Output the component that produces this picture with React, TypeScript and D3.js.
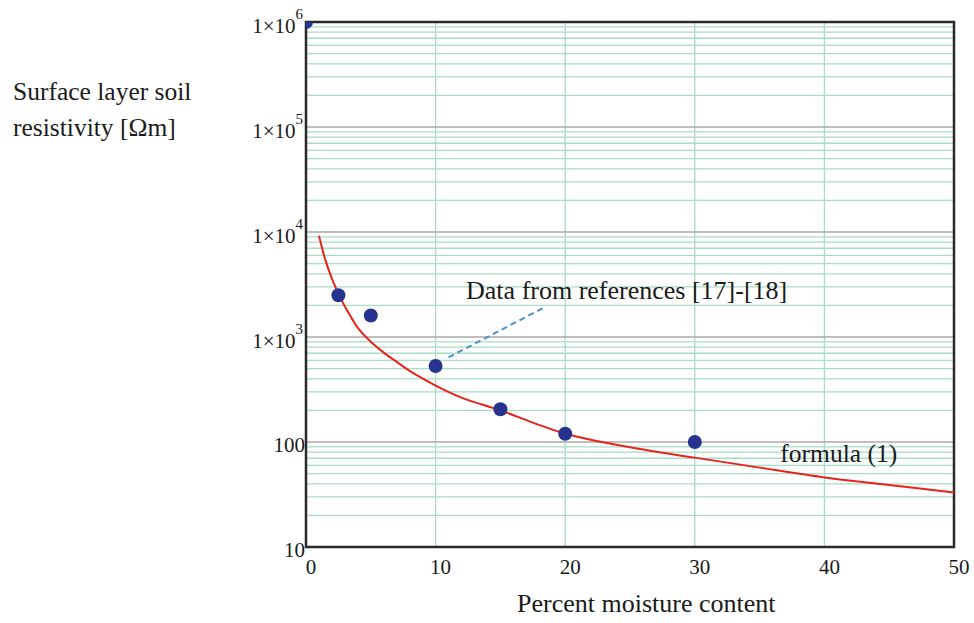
import { useEffect, useRef } from "react";
import * as d3 from "d3";

// curve "formula (1)"
const curveX = [1, 1.5, 2, 2.5, 3, 3.5, 4, 5, 6, 7, 8, 10, 12, 15, 17.5, 20, 25, 30, 35, 40, 45, 50];
const curveY = [9200, 5400, 3600, 2600, 1950, 1530, 1220, 900, 710, 580, 475, 345, 265, 200, 153, 120, 89, 71, 57, 46, 39, 33];

// measured points, data from references [17]-[18]
const dotX = [0, 2.5, 5, 10, 15, 20, 30];
const dotY = [1000000, 2500, 1600, 530, 205, 120, 100];

const xTicks = [0, 10, 20, 30, 40, 50];
const yTicks = [10, 100, 1000, 10000, 100000, 1000000];
const yTickExp = [null, null, 3, 4, 5, 6];

export default function App() {
    const svgRef = useRef(null);

    useEffect(() => {
        const svg = d3.select(svgRef.current);
        svg.selectAll("*").remove();

        const left = 306, right = 954, top = 22, bottom = 547;
        const font = "'Liberation Serif', 'Times New Roman', serif";

        const x = d3.scaleLinear().domain([0, 50]).range([left, right]);
        const y = d3.scaleLog().domain([10, 1000000]).range([bottom, top]);

        // clip for the dots
        svg.append("clipPath").attr("id", "plot-clip")
            .append("rect")
            .attr("x", left).attr("y", top)
            .attr("width", right - left).attr("height", bottom - top);

        // minor horizontal grid
        const minor = [];
        for (let d = 10; d < 1000000; d *= 10) {
            for (let k = 2; k <= 9; k++) minor.push(d * k);
        }
        svg.append("g").selectAll("line")
            .data(minor)
            .join("line")
            .attr("x1", left).attr("x2", right)
            .attr("y1", d => y(d)).attr("y2", d => y(d))
            .attr("stroke", "#a9dcc6")
            .attr("stroke-width", 1.3);

        // vertical grid
        svg.append("g").selectAll("line")
            .data(xTicks.slice(1, -1))
            .join("line")
            .attr("x1", d => x(d)).attr("x2", d => x(d))
            .attr("y1", top).attr("y2", bottom)
            .attr("stroke", "#a9dcc6")
            .attr("stroke-width", 1.3);

        // decade lines
        svg.append("g").selectAll("line")
            .data(yTicks.slice(1, -1))
            .join("line")
            .attr("x1", left).attr("x2", right)
            .attr("y1", d => y(d)).attr("y2", d => y(d))
            .attr("stroke", "#a8aaa8")
            .attr("stroke-width", 1.3);

        // frame
        svg.append("rect")
            .attr("x", left).attr("y", top)
            .attr("width", right - left).attr("height", bottom - top)
            .attr("fill", "none")
            .attr("stroke", "#2a2a2a")
            .attr("stroke-width", 2.5);

        // formula curve
        const lineGen = d3.line()
            .x(d => x(d[0]))
            .y(d => y(d[1]))
            .curve(d3.curveCatmullRom);

        svg.append("path")
            .datum(curveX.map((v, i) => [v, curveY[i]]))
            .attr("fill", "none")
            .attr("stroke", "#e8231c")
            .attr("stroke-width", 2)
            .attr("d", lineGen);

        // leader line for the data annotation
        svg.append("line")
            .attr("x1", x(11)).attr("y1", y(640))
            .attr("x2", x(18.3)).attr("y2", y(1890))
            .attr("stroke", "#4a8fd0")
            .attr("stroke-width", 2)
            .attr("stroke-dasharray", "6,4");

        // data dots
        svg.append("g")
            .attr("clip-path", "url(#plot-clip)")
            .selectAll("circle")
            .data(dotX.map((v, i) => [v, dotY[i]]))
            .join("circle")
            .attr("cx", d => x(d[0]))
            .attr("cy", d => y(d[1]))
            .attr("r", 7)
            .attr("fill", "#27348f");

        // y tick labels
        const yl = svg.append("g")
            .attr("font-family", font)
            .attr("fill", "#1a1a1a");
        yTicks.forEach((t, i) => {
            const e = yTickExp[i];
            if (e == null) {
                yl.append("text")
                    .attr("x", 305)
                    .attr("y", y(t) + 10)
                    .attr("text-anchor", "end")
                    .attr("font-size", 21)
                    .text(String(t));
            } else {
                const txt = yl.append("text")
                    .attr("x", 303)
                    .attr("y", y(t) + 11)
                    .attr("text-anchor", "end")
                    .attr("font-size", 21);
                txt.append("tspan").text("1×10");
                txt.append("tspan")
                    .attr("font-size", 15)
                    .attr("dy", -14)
                    .text(String(e));
            }
        });

        // x tick labels
        svg.append("g")
            .attr("font-family", font)
            .attr("font-size", 21)
            .attr("fill", "#1a1a1a")
            .selectAll("text")
            .data(xTicks)
            .join("text")
            .attr("x", d => x(d) + 5)
            .attr("y", 574)
            .attr("text-anchor", "middle")
            .text(d => String(d));

        // annotations
        svg.append("text")
            .attr("x", x(12.35)).attr("y", y(2300))
            .attr("font-family", font).attr("font-size", 26)
            .attr("fill", "#1a1a1a")
            .text("Data from references [17]-[18]");

        svg.append("text")
            .attr("x", x(36.6)).attr("y", y(64))
            .attr("font-family", font).attr("font-size", 25.5)
            .attr("fill", "#1a1a1a")
            .text("formula (1)");

        // axis titles
        const yt = svg.append("text")
            .attr("font-family", font).attr("font-size", 25.5)
            .attr("fill", "#1a1a1a");
        yt.append("tspan").attr("x", 13).attr("y", 100).text("Surface layer soil");
        yt.append("tspan").attr("x", 13).attr("y", 136).text("resistivity [Ωm]");

        svg.append("text")
            .attr("x", 517).attr("y", 612)
            .attr("font-family", font).attr("font-size", 26)
            .attr("fill", "#1a1a1a")
            .text("Percent moisture content");
    }, []);

    return (
        <svg
            ref={svgRef}
            width={974}
            height={623}
            style={{ position: "absolute", left: 0, top: 0, background: "#fff" }}
        />
    );
}
